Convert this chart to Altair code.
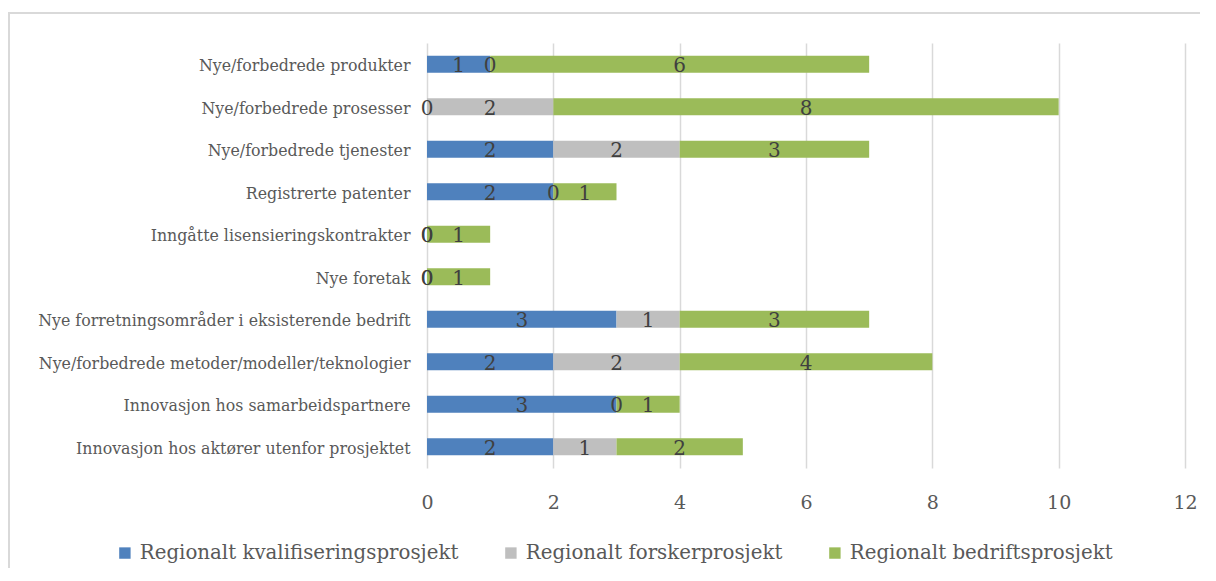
import altair as alt
import pandas as pd

categories = [
    "Nye/forbedrede produkter",
    "Nye/forbedrede prosesser",
    "Nye/forbedrede tjenester",
    "Registrerte patenter",
    "Inngåtte lisensieringskontrakter",
    "Nye foretak",
    "Nye forretningsområder i eksisterende bedrift",
    "Nye/forbedrede metoder/modeller/teknologier",
    "Innovasjon hos samarbeidspartnere ",
    "Innovasjon hos aktører utenfor prosjektet",
]
series = [
    "Regionalt kvalifiseringsprosjekt",
    "Regionalt forskerprosjekt",
    "Regionalt bedriftsprosjekt",
]
kvalifisering = [1, 0, 2, 2, 0, 0, 3, 2, 3, 2]
forsker = [0, 2, 2, 0, 0, 0, 1, 2, 0, 1]
bedrift = [6, 8, 3, 1, 1, 1, 3, 4, 1, 2]
colors = ["#4f81bd", "#bfbfbf", "#9bbb59"]
x_ticks = [0, 2, 4, 6, 8, 10, 12]

rows = []
for si, (s, vals) in enumerate(zip(series, [kvalifisering, forsker, bedrift])):
    for c, v in zip(categories, vals):
        rows.append({"kategori": c, "serie": s, "verdi": v, "ordre": si})
df = pd.DataFrame(rows)

FONT = "DejaVu Serif"

base = alt.Chart(df).transform_stack(
    stack="verdi", groupby=["kategori"], as_=["v0", "v1"],
    sort=[alt.SortField("ordre", order="ascending")],
).transform_calculate(mid="(datum.v0 + datum.v1) / 2")

y_enc = alt.Y("kategori:N", sort=categories, title=None,
              scale=alt.Scale(paddingInner=0.6, paddingOuter=0.3),
              axis=alt.Axis(labelFont=FONT, labelFontSize=15.8, labelColor="#595959",
                            labelPadding=17, labelOffset=2, ticks=False, domain=False,
                            labelLimit=500))

bars = base.mark_bar().encode(
    x=alt.X("v0:Q", title=None,
            scale=alt.Scale(domain=[0, 12], nice=False),
            axis=alt.Axis(values=x_ticks, format="d", grid=True, gridColor="#d9d9d9",
                          gridWidth=1.5, domain=False, ticks=False, labelFont=FONT,
                          labelFontSize=19, labelColor="#595959", labelPadding=25,
                          labelFlush=False)),
    x2="v1:Q",
    y=y_enc,
    color=alt.Color("serie:N", sort=series,
                    scale=alt.Scale(domain=series, range=colors),
                    legend=alt.Legend(title=None, orient="none", direction="horizontal",
                                      legendX=-312, legendY=500, symbolType="square",
                                      symbolSize=130, symbolStrokeWidth=0,
                                      labelFont=FONT, labelFontSize=19.8, labelColor="#595959",
                                      columnPadding=42, symbolOffset=0, labelOffset=5,
                                      labelLimit=600)),
    order=alt.Order("ordre:Q"),
)

labels = base.mark_text(font=FONT, fontSize=20, color="#404040", baseline="middle", dy=2).encode(
    x=alt.X("mid:Q"),
    y=alt.Y("kategori:N", sort=categories),
    text=alt.Text("verdi:Q", format="d"),
)

frame_top = alt.Chart(df).mark_rule(color="#d9d9d9", strokeWidth=2).encode(
    x=alt.value(-419), x2=alt.value(800), y=alt.value(-30))
frame_left = alt.Chart(df).mark_rule(color="#d9d9d9", strokeWidth=2).encode(
    x=alt.value(-418), y=alt.value(-30), y2=alt.value(560))

chart = alt.layer(frame_top, frame_left, bars, labels).properties(
    width=758, height=425,
    autosize=alt.AutoSizeParams(type="none"),
    padding={"left": 419, "top": 35, "right": 15, "bottom": 100},
).configure_view(stroke=None)

chart.save("out.html", embed_options={"renderer": "svg", "actions": False})
